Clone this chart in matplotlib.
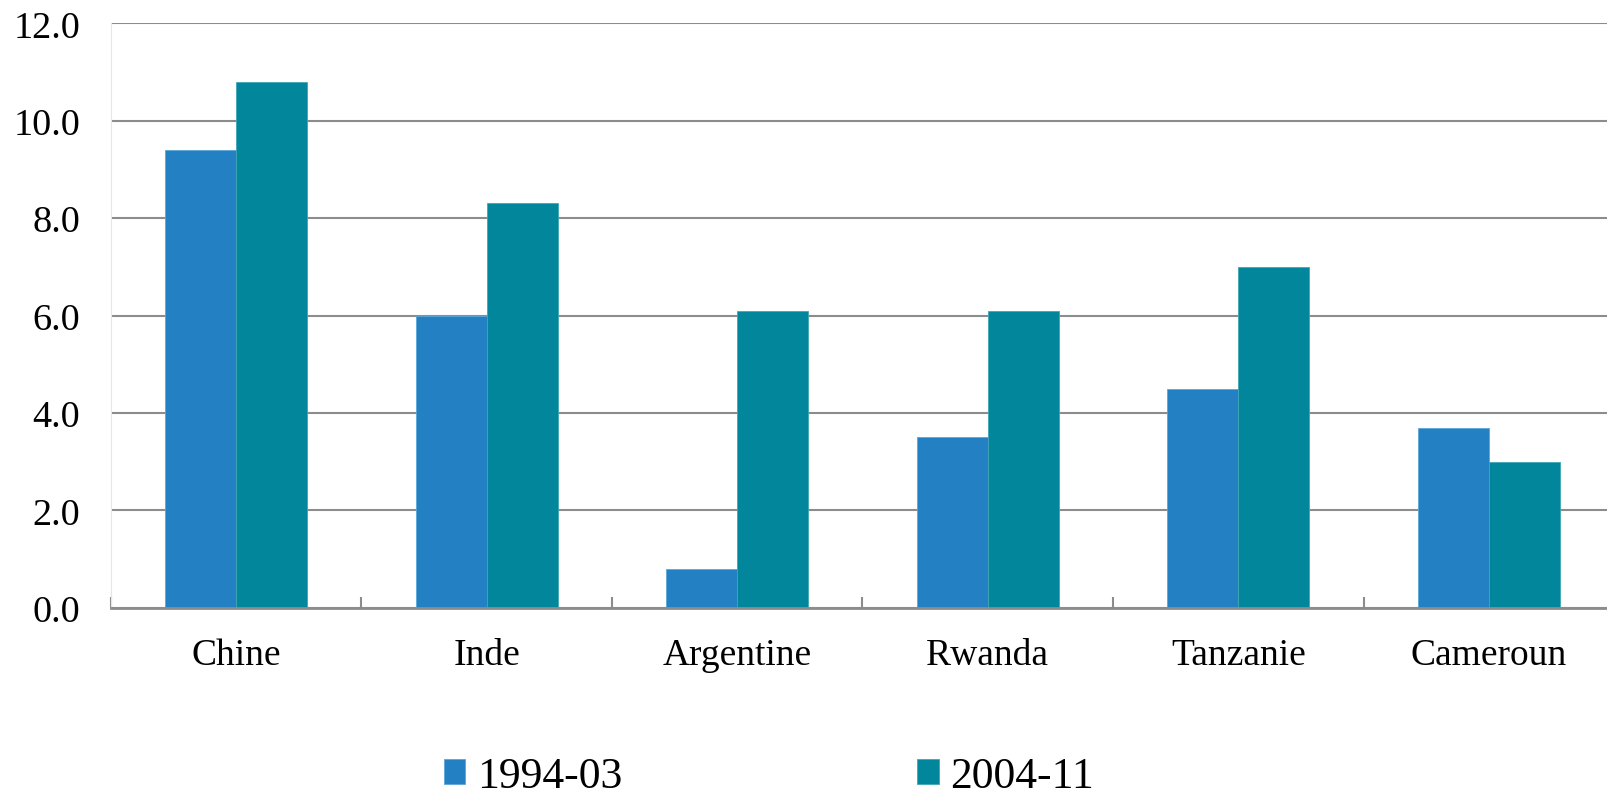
import numpy as np
import matplotlib
matplotlib.use("Agg")
import matplotlib.pyplot as plt

countries = ["Chine", "Inde", "Argentine", "Rwanda", "Tanzanie", "Cameroun"]
period_1 = [9.4, 6.0, 0.8, 3.5, 4.5, 3.7]
period_2 = [10.8, 8.3, 6.1, 6.1, 7.0, 3.0]
labels = ["1994-03", "2004-11"]
y_ticks = [0, 2, 4, 6, 8, 10, 12]

blue = "#2381c3"
teal = "#02869b"
grid_col = "#8c8c8c"

plt.rcParams["font.family"] = ["Liberation Serif", "DejaVu Serif"]

W, H = 1608, 804
fig = plt.figure(figsize=(W / 100, H / 100), dpi=100)
# plot area runs past the right edge, like the original
ax = fig.add_axes([110.7 / W, 1 - 608.7 / H, 1503.6 / W, 584.4 / H])

x = np.arange(len(countries))
w = 0.283
b1 = ax.bar(x - w / 2, period_1, w, color=blue, edgecolor="#5aa6d8", linewidth=0.6, label=labels[0], zorder=3)
b2 = ax.bar(x + w / 2, period_2, w, color=teal, edgecolor="#3fa6b6", linewidth=0.6, label=labels[1], zorder=3)

ax.set_xlim(-0.5, len(countries) - 0.5)
ax.set_ylim(0, 12)
ax.set_yticks(y_ticks)
ax.set_yticklabels([f"{v:.1f}" for v in y_ticks])
ax.yaxis.grid(True, color=grid_col, linewidth=1.5)
ax.set_axisbelow(True)

ax.set_xticks(x)
ax.set_xticklabels(countries)
ax.set_xticks(np.arange(len(countries) + 1) - 0.5, minor=True)
ax.tick_params(axis="x", which="major", length=0, pad=21.5, labelsize=27)
ax.tick_params(axis="x", which="minor", direction="in", length=8, width=1.5, color=grid_col)
ax.tick_params(axis="y", length=0, pad=22, labelsize=27.5)

for s in ["top", "right"]:
    ax.spines[s].set_visible(False)
ax.spines["left"].set_color("#e6e6e6")
ax.spines["left"].set_linewidth(0.8)
ax.spines["bottom"].set_color(grid_col)
ax.spines["bottom"].set_linewidth(2)
ax.spines["bottom"].set_zorder(4)

fig.legend(handles=[b1, b2], labels=labels, loc="center", bbox_to_anchor=(769 / W, 1 - 777 / H),
           ncol=2, frameon=False, fontsize=31.4, handlelength=0.5, handleheight=0.53,
           handletextpad=0.27, columnspacing=6.75, borderaxespad=0, borderpad=0)

fig.savefig("out.png", dpi=100)
